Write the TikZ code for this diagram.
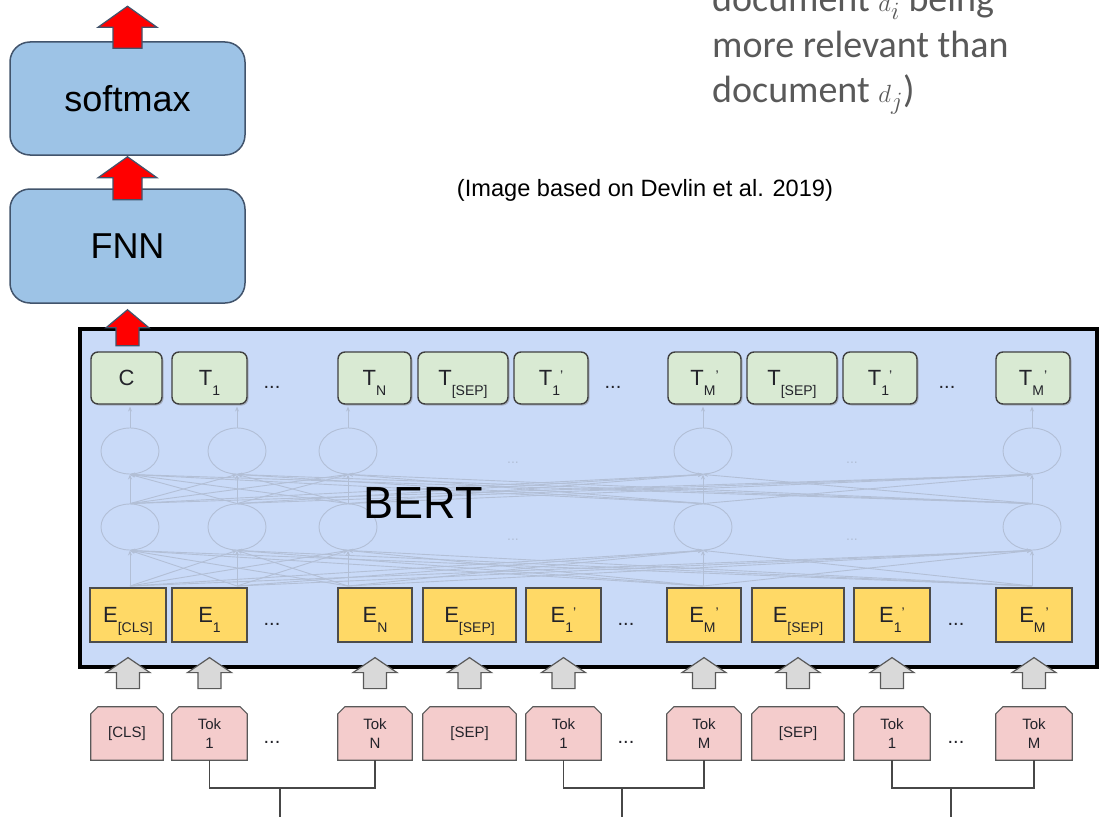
\documentclass[tikz,border=0pt]{standalone}
\usepackage{fontspec}
\setmainfont{Liberation Sans}
\newfontfamily\notefont{Carlito}
\usetikzlibrary{calc,shapes.geometric,shadows,arrows.meta}
\pgfdeclarelayer{bg}
\pgfsetlayers{bg,main}

\definecolor{boxblue}{RGB}{157,195,230}
\definecolor{boxedge}{RGB}{66,84,108}
\definecolor{bertfill}{RGB}{201,218,248}
\definecolor{tgreen}{RGB}{217,234,211}
\definecolor{eyellow}{RGB}{255,217,102}
\definecolor{tokpink}{RGB}{244,204,204}
\definecolor{netgrey}{RGB}{178,191,214}
\definecolor{labelink}{RGB}{35,35,42}
\definecolor{notegrey}{RGB}{89,89,89}
\definecolor{garrow}{RGB}{217,217,217}

% subscript dropped below the main letter, prime raised beside it
\newcommand{\sbs}[1]{\raisebox{-10pt}[0pt][0pt]{\fontsize{14}{14}\selectfont #1}}
\newcommand{\prm}{\raisebox{5pt}[0pt][0pt]{\fontsize{14}{14}\selectfont '}}

% upward block arrow: style, tip, head half-width, head height, shaft half-width, total length
\newcommand{\blockup}[6]{\draw[#1] #2 -- ++(#3,#4) -- ++({-(#3-#5)},0) -- ++(0,{#6-#4})
  -- ++({-2*(#5)},0) -- ++(0,{-(#6-#4)}) -- ++({-(#3-#5)},0) -- cycle;}

% token outline with cut top corners
\newcommand{\chamfer}[1]{\draw[tokshape] (#1.south west) -- ($(#1.north west)+(0,7)$)
  -- ($(#1.north west)+(7,0)$) -- ($(#1.north east)+(-7,0)$) -- ($(#1.north east)+(0,7)$)
  -- (#1.south east) -- cycle;}

\tikzset{
  topbox/.style={draw=boxedge, fill=boxblue, line width=1.5pt, rounded corners=20pt,
    minimum width=235pt, inner sep=0pt, font=\fontsize{36}{40}\selectfont},
  redarrow/.style={fill=red, draw=boxedge, line width=1.2pt, line join=miter},
  greyarrow/.style={fill=garrow, draw=black!65, line width=1.2pt},
  bertbox/.style={draw=black, fill=bertfill, line width=4pt, minimum width=1017pt,
    minimum height=338pt, inner sep=0pt},
  tbox/.style={draw=black!75, fill=tgreen, line width=1.4pt, rounded corners=7pt,
    minimum height=52pt, inner sep=0pt, text=labelink, font=\fontsize{22}{22}\selectfont,
    drop shadow={opacity=0.45, shadow xshift=1.5pt, shadow yshift=-1.5pt}},
  ebox/.style={draw=black!70, fill=eyellow, line width=1.2pt, minimum height=54pt,
    inner sep=0pt, text=labelink, font=\fontsize{22}{22}\selectfont},
  tok/.style={minimum height=53pt, inner sep=0pt, align=center, text=labelink,
    font=\fontsize{15}{19}\selectfont},
  tokshape/.style={fill=tokpink, draw=black!65, line width=1.2pt},
  rowdots/.style={anchor=base, text=labelink, font=\fontsize{20}{20}\selectfont},
  neuron/.style={ellipse, draw=netgrey, line width=0.9pt, minimum width=58pt,
    minimum height=46pt, inner sep=0pt},
  netline/.style={draw=netgrey, line width=0.9pt, -{Stealth[length=5pt,width=4pt]}},
  netdots/.style={text=netgrey, font=\fontsize{14}{14}\selectfont},
  bracket/.style={draw=black!72, line width=1.5pt},
  note/.style={anchor=base west, text=notegrey, inner sep=0pt,
    font=\notefont\fontsize{38}{45}\selectfont},
}

\begin{document}
\begin{tikzpicture}[x=1pt, y=-1pt]
\useasboundingbox (0,0) rectangle (1102,816);
\clip (0,0) rectangle (1102,816);

% classifier head
\node[topbox, minimum height=113pt] (softmax) at (127.5,98.5) {softmax};
\node[topbox, minimum height=114pt] (fnn) at (127.5,246) {FNN};

% annotation (its first line runs off the top edge) and citation
\node[note] (n1) at (712,12) {document $d_i$ being};
\node[note] (n2) at (712,57) {more relevant than};
\node[note] (n3) at (712,102) {document $d_j$)};
\node[font=\fontsize{23.6}{26}\selectfont] (cite) at (645,190) {(Image based on Devlin et al. 2019)};

% encoder block
\node[bertbox] (bert) at (588.5,498) {};

% transformer layers, drawn faintly
\foreach \x [count=\i] in {130,237,348,703,1032} {
  \node[neuron] (u\i) at (\x,451) {};
  \node[neuron] (l\i) at (\x,527) {};
  \coordinate (b\i) at (\x,586);
}
\foreach \i in {1,...,5} {
  \foreach \j in {1,...,5} {
    \draw[netline] (l\i.north) -- (u\j.south);
    \draw[netline] (b\i) -- (l\j.south);
  }
  \draw[netline] (u\i.north) -- ++(0,-21);
}
\node[netdots] (nd1) at (513,463) {...};
\node[netdots] (nd2) at (513,540) {...};
\node[netdots] (nd3) at (852,463) {...};
\node[netdots] (nd4) at (852,540) {...};

\node[font=\fontsize{45}{45}\selectfont] (bertlabel) at (423,503) {BERT};

% output representations
\node[tbox, minimum width=71pt] (t1) at (126.5,378) {C};
\node[tbox, minimum width=75pt] (t2) at (209.5,378) {T\sbs{1}};
\node[rowdots] (td1) at (272,388) {...};
\node[tbox, minimum width=73pt] (t3) at (374.5,378) {T\sbs{N}};
\node[tbox, minimum width=90pt] (t4) at (463,378) {T\sbs{[SEP]}};
\node[tbox, minimum width=74pt] (t5) at (551,378) {T\sbs{1}\prm};
\node[rowdots] (td2) at (613,388) {...};
\node[tbox, minimum width=73pt] (t6) at (704.5,378) {T\sbs{M}\prm};
\node[tbox, minimum width=90pt] (t7) at (792,378) {T\sbs{[SEP]}};
\node[tbox, minimum width=74pt] (t8) at (880,378) {T\sbs{1}\prm};
\node[rowdots] (td3) at (947,388) {...};
\node[tbox, minimum width=74pt] (t9) at (1033,378) {T\sbs{M}\prm};

% input embeddings
\node[ebox, minimum width=76pt] (e1) at (128,615) {E\sbs{[CLS]}};
\node[ebox, minimum width=75pt] (e2) at (209.5,615) {E\sbs{1}};
\node[rowdots] (ed1) at (272,625) {...};
\node[ebox, minimum width=74pt] (e3) at (375,615) {E\sbs{N}};
\node[ebox, minimum width=93pt] (e4) at (469.5,615) {E\sbs{[SEP]}};
\node[ebox, minimum width=75pt] (e5) at (563.5,615) {E\sbs{1}\prm};
\node[rowdots] (ed2) at (626,625) {...};
\node[ebox, minimum width=74pt] (e6) at (704,615) {E\sbs{M}\prm};
\node[ebox, minimum width=92pt] (e7) at (798,615) {E\sbs{[SEP]}};
\node[ebox, minimum width=76pt] (e8) at (892,615) {E\sbs{1}\prm};
\node[rowdots] (ed3) at (956,625) {...};
\node[ebox, minimum width=76pt] (e9) at (1034,615) {E\sbs{M}\prm};

% red arrows of the classifier path
\blockup{redarrow}{($(softmax.north)+(0,-35)$)}{29.5}{21}{14.5}{42}
\blockup{redarrow}{($(softmax.south)+(0,1)$)}{29.5}{21}{14.5}{43}
\blockup{redarrow}{($(fnn.south)+(0,6)$)}{21.5}{18}{11.5}{36}

% input tokens
\node[tok, minimum width=72pt] (k1) at (127,733.5) {[CLS]};
\node[tok, minimum width=75pt] (k2) at (209.5,733.5) {Tok\\1};
\node[rowdots] (kd1) at (272,743) {...};
\node[tok, minimum width=74pt] (k3) at (375,733.5) {Tok\\N};
\node[tok, minimum width=93pt] (k4) at (469.5,733.5) {[SEP]};
\node[tok, minimum width=75pt] (k5) at (563.5,733.5) {Tok\\1};
\node[rowdots] (kd2) at (626,743) {...};
\node[tok, minimum width=74pt] (k6) at (704,733.5) {Tok\\M};
\node[tok, minimum width=92pt] (k7) at (798,733.5) {[SEP]};
\node[tok, minimum width=76pt] (k8) at (892,733.5) {Tok\\1};
\node[rowdots] (kd3) at (956,743) {...};
\node[tok, minimum width=76pt] (k9) at (1034,733.5) {Tok\\M};
\begin{pgfonlayer}{bg}
  \foreach \k in {k1,k2,k3,k4,k5,k6,k7,k8,k9} {\chamfer{\k}}
\end{pgfonlayer}

% grey arrows from tokens into the embeddings
\foreach \e in {e1,e2,e3,e4,e5,e6,e7,e8,e9} {
  \blockup{greyarrow}{($(\e.south)+(0,15)$)}{22}{15}{11.5}{31}
}

% brackets joining the tokens of each text
\coordinate (j1) at (280,788);  \coordinate (f1) at (280,822);
\coordinate (j2) at (622,788);  \coordinate (f2) at (622,822);
\coordinate (j3) at (951,788);  \coordinate (f3) at (951,822);
\draw[bracket] (k2.south) -- (k2.south |- j1) -- (k3.south |- j1) -- (k3.south);
\draw[bracket] (j1) -- (f1);
\draw[bracket] (k5.south) -- (k5.south |- j2) -- (k6.south |- j2) -- (k6.south);
\draw[bracket] (j2) -- (f2);
\draw[bracket] (k8.south) -- (k8.south |- j3) -- (k9.south |- j3) -- (k9.south);
\draw[bracket] (j3) -- (f3);
\end{tikzpicture}
\end{document}
